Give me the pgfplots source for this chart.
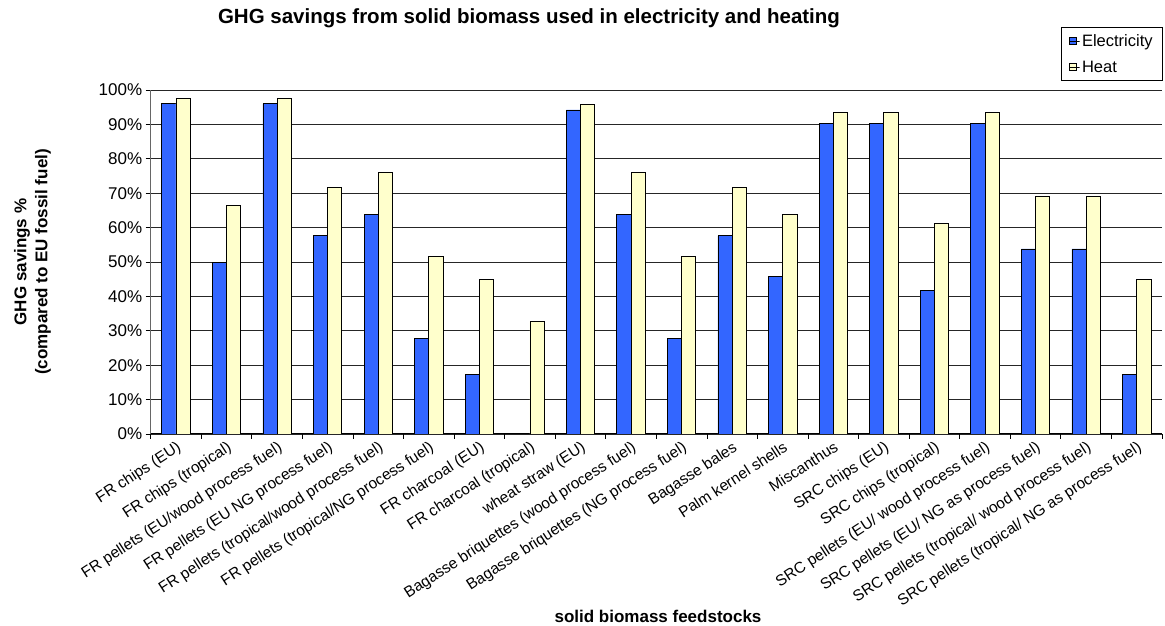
\documentclass[border=0pt]{standalone}
\usepackage{pgfplots}
\pgfplotsset{compat=1.18}
\usepackage{fontspec}
\setmainfont{Liberation Sans}
\definecolor{elec}{HTML}{3366FF}
\definecolor{heat}{HTML}{FFFFCC}
\begin{document}
\begin{tikzpicture}
\path[use as bounding box] (0,0) rectangle (1165pt,626pt);
\begin{axis}[
  at={(150.7pt,192pt)}, anchor=south west,
  scale only axis, width=1011.3pt, height=344pt,
  xmin=-0.5, xmax=19.5, ymin=0, ymax=100,
  ybar=0pt, bar width=14.2pt,
  axis x line*=bottom, axis y line*=left,
  axis line style={-},
  x axis line style={black, line width=1pt},
  y axis line style={black!60, line width=1pt},
  tick align=outside, major tick length=5pt, minor tick length=5pt,
  ytick={0,10,...,100},
  yticklabels={0\%,10\%,20\%,30\%,40\%,50\%,60\%,70\%,80\%,90\%,100\%},
  ymajorgrids, grid style={black!85, line width=0.8pt},
  ytick style={draw=black, line width=0.8pt},
  xtick={0,...,19},
  minor xtick={-0.5,0.5,...,19.5},
  major x tick style={draw=none},
  minor x tick style={draw=black, line width=0.8pt},
  xticklabels={FR chips (EU),FR chips (tropical),FR pellets (EU/wood process fuel),FR pellets (EU NG process fuel),FR pellets (tropical/wood process fuel),FR pellets (tropical/NG process fuel),FR charcoal (EU),FR charcoal (tropical),wheat straw (EU),Bagasse briquettes (wood process fuel),Bagasse briquettes (NG process fuel),Bagasse bales,Palm kernel shells,Miscanthus,SRC chips (EU),SRC chips (tropical),SRC pellets (EU/ wood process fuel),SRC pellets (EU/ NG as process fuel),SRC pellets (tropical/ wood process fuel),SRC pellets (tropical/ NG as process fuel)},
  yticklabel style={font=\fontsize{17}{20}\selectfont},
  xticklabel style={font=\fontsize{15.5}{18}\selectfont, rotate=33, anchor=north east, inner sep=1pt},
  legend style={at={(1.001,1.183)}, anchor=north east, draw=black, line width=0.8pt,
    font=\fontsize{16.5}{20}\selectfont, row sep=9pt, inner xsep=8pt, inner ysep=5pt},
  legend cell align=left,
  legend image code/.code={\draw[#1, line width=0.8pt] (0pt,-3.5pt) rectangle (7pt,3.5pt);\path (0pt,0pt) rectangle (10pt,0pt);},
]
\addplot[fill=elec, draw=black, line width=0.8pt] coordinates {
(0,96) (1,49.8) (2,96) (3,57.6) (4,63.8) (5,27.7) (6,17.3)
(8,94.2) (9,63.8) (10,27.7) (11,57.6) (12,45.8) (13,90.3) (14,90.3)
(15,41.6) (16,90.3) (17,53.8) (18,53.8) (19,17.3)};
\addplot[fill=heat, draw=black, line width=0.8pt] coordinates {
(0,97.5) (1,66.5) (2,97.5) (3,71.7) (4,76) (5,51.5) (6,45) (7,32.7)
(8,95.9) (9,76) (10,51.5) (11,71.7) (12,63.8) (13,93.4) (14,93.4)
(15,61.1) (16,93.4) (17,69.2) (18,69.2) (19,45)};
\legend{Electricity,Heat}
\end{axis}
\node[font=\bfseries\fontsize{20.5}{24}\selectfont] at (529pt,608pt) {GHG savings from solid biomass used in electricity and heating};
\node[rotate=90, align=center, font=\bfseries\fontsize{17}{21}\selectfont] at (32.5pt,364pt) {GHG savings \%\\(compared to EU fossil fuel)};
\node[font=\bfseries\fontsize{17}{20}\selectfont] at (658pt,10pt) {solid biomass feedstocks};
\end{tikzpicture}
\end{document}
